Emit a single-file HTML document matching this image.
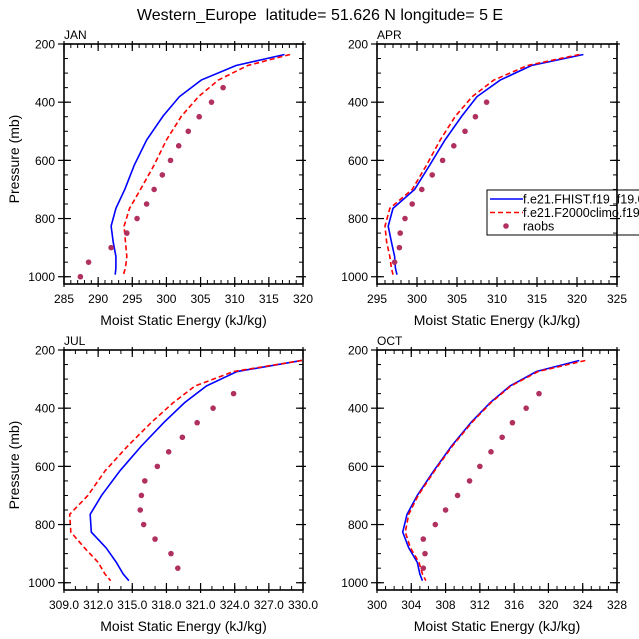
<!DOCTYPE html>
<html><head><meta charset="utf-8">
<style>
html,body{margin:0;padding:0;background:#fff;}
svg{display:block;font-family:"Liberation Sans",sans-serif;}
</style></head>
<body>
<svg id="fig" width="639" height="639" viewBox="0 0 639 639" xmlns="http://www.w3.org/2000/svg">
<text x="320" y="20" font-size="16" text-anchor="middle">Western_Europe&#160; latitude= 51.626 N longitude= 5 E</text>
<g id="legend">
  <rect x="487" y="190" width="160" height="45" fill="#fff" stroke="#000" stroke-width="1"/>
  <line x1="490" y1="199" x2="523" y2="199" stroke="#0000ff" stroke-width="1.6"/>
  <text x="523" y="203.5" font-size="12.5">f.e21.FHIST.f19_f19.001</text>
  <line x1="490" y1="212.5" x2="523" y2="212.5" stroke="#ff0000" stroke-width="1.6" stroke-dasharray="5,3"/>
  <text x="523" y="217" font-size="12.5">f.e21.F2000climo.f19</text>
  <circle cx="506" cy="226" r="2.8" fill="#b03060"/>
  <text x="523" y="230.5" font-size="12.5">raobs</text>
</g>
</svg>
<script>
const modelP = [236, 274, 324, 381, 448, 530, 616, 700, 765, 826, 880, 930, 970, 993];
const obsP = [350, 400, 450, 500, 550, 600, 650, 700, 750, 800, 850, 900, 950, 1000];
const yTicks = [200, 400, 600, 800, 1000];

const janBlue = [317.3, 310.2, 305.1, 301.9, 299.5, 297.1, 295.3, 293.9, 292.6, 291.9, 292.2, 292.6, 292.6, 292.5];
const janRed = [318.1, 311.9, 307.6, 304.7, 302.2, 300.0, 298.2, 296.2, 294.6, 293.8, 294.0, 294.2, 294.0, 293.7];
const janObs = [308.3, 306.6, 304.8, 303.2, 301.8, 300.6, 299.4, 298.2, 297.1, 295.7, 294.2, 291.9, 288.6, 287.4];
const janXTicks = [285, 290, 295, 300, 305, 310, 315, 320];

const aprBlue = [320.8, 314.3, 310.4, 307.5, 305.6, 303.5, 301.6, 299.7, 297.0, 296.4, 296.8, 297.2, 297.3, 297.5];
const aprRed = [320.3, 313.8, 309.6, 306.9, 304.8, 302.9, 301.2, 299.4, 296.6, 296.0, 296.2, 296.6, 296.8, 297.0];
const aprObs = [null, 308.7, 307.3, 306.0, 304.6, 303.2, 301.9, 300.6, 299.4, 298.5, 297.9, 297.8, 297.2, null];
const aprXTicks = [295, 300, 305, 310, 315, 320, 325];

const julBlue = [329.9, 324.2, 321.5, 319.6, 317.8, 315.8, 313.9, 312.3, 311.3, 311.4, 312.7, 313.6, 314.2, 314.7];
const julRed = [329.9, 323.9, 320.5, 318.6, 316.7, 314.6, 312.6, 311.1, 309.5, 309.6, 310.8, 312.0, 312.6, 313.1];
const julObs = [323.9, 322.1, 320.7, 319.4, 318.2, 317.2, 316.1, 315.8, 315.7, 316.0, 317.0, 318.4, 319.0, null];
const julXTicks = ["309.0", "312.0", "315.0", "318.0", "321.0", "324.0", "327.0", "330.0"];

const octBlue = [323.6, 318.6, 315.5, 313.2, 311.0, 308.7, 306.6, 304.7, 303.5, 303.0, 303.7, 304.7, 305.0, 305.3];
const octRed = [324.3, 318.8, 315.6, 313.3, 311.1, 308.8, 306.7, 304.8, 303.7, 303.3, 303.9, 304.9, 305.3, 305.7];
const octObs = [318.9, 317.4, 315.8, 314.6, 313.3, 312.0, 310.8, 309.4, 308.0, 306.8, 305.4, 305.6, 305.4, null];
const octXTicks = [300, 304, 308, 312, 316, 320, 324, 328];

const NS = "http://www.w3.org/2000/svg";
const svg = document.getElementById('fig');
const legend = document.getElementById('legend');

function mk(tag, attrs, parent) {
  const e = document.createElementNS(NS, tag);
  for (const k in attrs) e.setAttribute(k, attrs[k]);
  (parent || svg).appendChild(e);
  return e;
}

function panel(cfg) {
  const {name, label, x0, x1, y0, y1, xmin, xmax, minorStep, xticks, blue, red, obs, ytitle} = cfg;
  const pmin = 200, pmax = 1025;
  const sx = v => x0 + (v - xmin) / (xmax - xmin) * (x1 - x0);
  const sy = p => y0 + (p - pmin) / (pmax - pmin) * (y1 - y0);
  const g = mk('g', {}, svg);
  
  
  svg.insertBefore(g, legend);

  const clipId = 'clip-' + name;
  const cp = mk('clipPath', {id: clipId}, g);
  mk('rect', {x: x0, y: y0, width: x1 - x0, height: y1 - y0}, cp);
  const plot = mk('g', {'clip-path': 'url(#' + clipId + ')'}, g);

  const pts = arr => arr.map((v, i) => sx(v).toFixed(2) + ',' + sy(modelP[i]).toFixed(2)).join(' ');
  const lb = mk('polyline', {points: pts(blue), fill: 'none', stroke: '#0000ff', 'stroke-width': 1.6}, plot);
  
  
  const lr = mk('polyline', {points: pts(red), fill: 'none', stroke: '#ff0000', 'stroke-width': 1.6, 'stroke-dasharray': '5,3'}, plot);
  
  
  obs.forEach((v, i) => {
    if (v === null) return;
    const c = mk('circle', {cx: sx(v), cy: sy(obsP[i]), r: 2.8, fill: '#b03060'}, plot);
    
    
  });

  const frame = mk('g', {}, svg);
  
  
  mk('rect', {x: x0, y: y0, width: x1 - x0, height: y1 - y0, fill: 'none', stroke: '#000', 'stroke-width': 1.6}, frame);
  for (let v = xmin; v <= xmax + 1e-6; v += minorStep) {
    const X = sx(v);
    mk('line', {x1: X, y1: y1, x2: X, y2: y1 - 4, stroke: '#000', 'stroke-width': 1}, frame);
    mk('line', {x1: X, y1: y0, x2: X, y2: y0 + 4, stroke: '#000', 'stroke-width': 1}, frame);
  }
  xticks.forEach(t => {
    const v = parseFloat(t);
    const X = sx(v);
    mk('line', {x1: X, y1: y1 + 3, x2: X, y2: y1 - 7, stroke: '#000', 'stroke-width': 1.2}, frame);
    mk('line', {x1: X, y1: y0 - 3, x2: X, y2: y0 + 7, stroke: '#000', 'stroke-width': 1.2}, frame);
    const tx = mk('text', {x: X, y: y1 + 19, 'font-size': 12, 'text-anchor': 'middle'}, frame);
    
    
    tx.textContent = t;
  });
  for (let p = 250; p <= 1000; p += 50) {
    const Y = sy(p);
    mk('line', {x1: x0, y1: Y, x2: x0 + 4, y2: Y, stroke: '#000', 'stroke-width': 1}, frame);
    mk('line', {x1: x1, y1: Y, x2: x1 - 4, y2: Y, stroke: '#000', 'stroke-width': 1}, frame);
  }
  yTicks.forEach(p => {
    const Y = sy(p);
    mk('line', {x1: x0 - 6, y1: Y, x2: x0 + 7, y2: Y, stroke: '#000', 'stroke-width': 1.2}, frame);
    mk('line', {x1: x1 + 3, y1: Y, x2: x1 - 7, y2: Y, stroke: '#000', 'stroke-width': 1.2}, frame);
    const tx = mk('text', {x: x0 - 9, y: Y + 4.5, 'font-size': 12, 'text-anchor': 'end'}, frame);
    
    
    tx.textContent = p;
  });
  const pl = mk('text', {x: x0, y: y0 - 5, 'font-size': 12}, frame);
  
  
  pl.textContent = label;
  const xt = mk('text', {x: (x0 + x1) / 2, y: y1 + 41, 'font-size': 14, 'text-anchor': 'middle'}, frame);
  
  
  xt.textContent = 'Moist Static Energy (kJ/kg)';
  if (ytitle) {
    const cy = (y0 + y1) / 2 - 5;
    const yt = mk('text', {x: 14, y: cy, 'font-size': 14, 'text-anchor': 'middle', transform: 'rotate(-90 14 ' + cy + ') translate(0 5)'}, frame);
    
    
    yt.textContent = 'Pressure (mb)';
  }
}

panel({name: 'jan', label: 'JAN', x0: 64, x1: 303, y0: 44, y1: 284, xmin: 285, xmax: 320, minorStep: 1, xticks: janXTicks, blue: janBlue, red: janRed, obs: janObs, ytitle: true});
panel({name: 'apr', label: 'APR', x0: 377, x1: 617, y0: 44, y1: 284, xmin: 295, xmax: 325, minorStep: 1, xticks: aprXTicks, blue: aprBlue, red: aprRed, obs: aprObs, ytitle: false});
panel({name: 'jul', label: 'JUL', x0: 64, x1: 303, y0: 350, y1: 590, xmin: 309, xmax: 330, minorStep: 1, xticks: julXTicks, blue: julBlue, red: julRed, obs: julObs, ytitle: true});
panel({name: 'oct', label: 'OCT', x0: 377, x1: 617, y0: 350, y1: 590, xmin: 300, xmax: 328, minorStep: 1, xticks: octXTicks, blue: octBlue, red: octRed, obs: octObs, ytitle: false});
</script>
</body></html>
